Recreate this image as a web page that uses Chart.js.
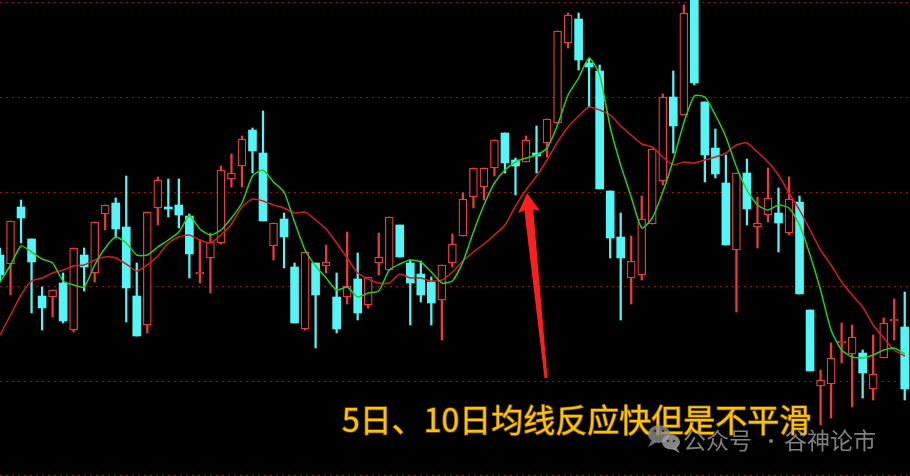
<!DOCTYPE html>
<html>
<head>
<meta charset="utf-8">
<script src="https://cdn.jsdelivr.net/npm/chart.js@4/dist/chart.umd.min.js"></script>
<style>
  html, body { margin: 0; padding: 0; background: #000; }
  #wrap { width: 910px; height: 476px; }
</style>
</head>
<body>
<div id="wrap"><canvas id="kline" width="910" height="476"></canvas></div>
<script>
"use strict";

// Daily K-line with 5/10-day moving averages (red = up, cyan = down).

// ---------- data ----------
const OPEN = [
  31.5, 30.6, 36.3, 33.1, 27.4, 27.3, 28.7, 24.0, 31.5, 29.7,
  35.6, 36.7, 34.3, 27.4, 24.5, 36.2, 36.3, 36.5, 35.4, 29.6,
  31.2, 32.7, 39.1, 40.4, 44.0, 41.7, 32.4, 35.1, 30.3, 24.1,
  30.7, 30.4, 27.3, 27.3, 29.1, 26.5, 30.7, 30.0, 34.5, 30.7,
  29.6, 28.8, 27.0, 30.7, 33.4, 37.3, 38.3, 40.2, 43.7, 41.0,
  40.8, 41.7, 42.7, 44.7, 52.7, 55.1, 50.7, 49.9, 37.9, 33.3,
  29.2, 29.5, 34.6, 38.9, 47.3, 45.5, 58.5, 46.8, 42.2, 38.7,
  32.0, 39.7, 34.3, 35.5, 35.7, 33.7, 36.8, 26.0, 18.4, 18.6,
  22.7, 21.6, 21.7, 18.1, 21.2, 24.9, 24.3
];
const HIGH = [
  32.2, 34.9, 37.0, 33.1, 28.3, 28.0, 29.7, 32.2, 32.2, 34.8,
  36.5, 37.2, 39.4, 30.7, 35.8, 39.3, 39.1, 39.1, 35.6, 33.0,
  33.7, 40.4, 41.6, 43.4, 44.2, 45.9, 34.7, 35.7, 30.7, 31.8,
  30.7, 32.5, 29.7, 33.8, 31.7, 29.3, 33.7, 35.3, 34.5, 31.0,
  30.9, 29.3, 30.5, 33.6, 37.7, 40.2, 40.2, 43.0, 43.7, 41.2,
  43.4, 44.4, 45.1, 53.9, 55.7, 55.7, 51.2, 50.5, 37.9, 35.7,
  33.4, 37.4, 42.1, 47.6, 49.9, 56.5, 59.0, 46.8, 44.1, 41.5,
  39.7, 41.1, 37.3, 40.2, 38.2, 39.3, 37.4, 26.0, 20.0, 22.7,
  24.7, 24.5, 22.0, 23.5, 25.2, 27.1, 27.8
];
const LOW = [
  28.8, 27.5, 32.7, 25.7, 24.0, 25.3, 24.7, 23.8, 27.9, 28.8,
  34.0, 33.2, 24.8, 23.4, 23.7, 34.5, 35.3, 34.2, 29.2, 28.7,
  27.7, 32.6, 38.3, 38.3, 39.7, 34.9, 31.0, 30.2, 24.7, 24.0,
  22.2, 29.7, 23.7, 26.6, 25.0, 26.2, 29.5, 30.0, 31.3, 24.5,
  26.8, 24.5, 23.0, 30.3, 33.4, 36.2, 37.0, 39.4, 39.7, 37.5,
  40.8, 39.7, 41.3, 44.7, 52.2, 50.0, 46.3, 38.1, 31.2, 25.0,
  26.6, 29.0, 34.6, 38.5, 41.7, 45.5, 48.5, 38.8, 39.2, 32.5,
  25.8, 34.5, 32.2, 34.8, 31.8, 33.5, 27.6, 19.9, 14.5, 15.2,
  20.7, 16.3, 17.2, 17.0, 21.2, 23.0, 17.0
];
const CLOSE = [
  29.5, 34.9, 35.2, 30.8, 26.2, 28.0, 24.9, 32.2, 30.3, 34.8,
  36.5, 34.1, 28.2, 23.4, 35.8, 39.0, 36.1, 35.5, 31.6, 29.8,
  32.8, 40.0, 39.7, 43.1, 41.9, 34.9, 34.7, 33.3, 24.7, 31.8,
  27.5, 30.8, 24.1, 28.4, 25.7, 29.3, 31.3, 35.3, 31.3, 28.7,
  27.5, 26.7, 30.5, 32.6, 37.1, 40.2, 40.2, 43.0, 40.7, 40.4,
  43.0, 41.4, 45.1, 53.9, 55.5, 51.0, 50.3, 38.1, 33.2, 31.2,
  30.9, 35.1, 42.1, 47.3, 44.4, 55.7, 48.7, 41.5, 39.6, 32.5,
  39.7, 36.1, 34.7, 37.2, 34.7, 37.1, 27.6, 19.9, 19.0, 21.2,
  22.9, 23.3, 19.7, 19.6, 24.7, 25.1, 18.1
];
const MA5 = [
  28.8, 30.5, 32.4, 31.8, 31.1, 30.7, 28.9, 28.5, 28.3, 30.5,
  32.2, 33.3, 32.7, 31.5, 31.5, 32.3, 33.0, 33.8, 35.4, 34.1,
  33.5, 34.0, 35.2, 36.7, 39.4, 40.0, 38.8, 37.8, 34.8, 32.0,
  30.4, 29.2, 28.0, 28.3, 27.3, 27.7, 27.9, 30.0, 30.6, 31.0,
  30.8, 29.8, 28.7, 28.9, 30.8, 33.8, 36.5, 38.7, 40.0, 40.8,
  41.2, 41.5, 42.2, 44.5, 47.5, 49.2, 51.2, 49.5, 44.3, 40.5,
  37.3, 34.2, 35.2, 37.8, 41.0, 44.7, 47.4, 47.3, 45.5, 43.3,
  40.3, 38.0, 36.5, 36.0, 36.5, 36.2, 34.5, 31.5, 28.0, 24.0,
  22.0, 21.3, 21.2, 21.5, 22.0, 22.2, 21.6
];
const MA10 = [
  23.5, 25.5, 27.5, 28.9, 29.2, 29.7, 30.0, 30.4, 30.5, 31.0,
  31.3, 31.2, 30.6, 29.9, 30.5, 31.4, 32.7, 33.3, 33.5, 33.0,
  32.7, 33.5, 34.6, 36.3, 37.1, 36.9, 36.5, 36.2, 35.7, 35.8,
  35.0, 34.1, 32.7, 31.2, 29.7, 29.1, 28.7, 28.7, 29.6, 29.2,
  29.2, 28.9, 29.0, 29.8, 30.9, 31.8, 32.6, 33.5, 34.5, 36.4,
  38.0, 39.4, 41.0, 42.8, 44.3, 45.4, 46.3, 46.0, 45.5, 44.4,
  43.5, 42.6, 42.3, 41.3, 40.5, 40.8, 40.7, 41.0, 41.3, 41.7,
  42.5, 42.7, 41.8, 40.8, 39.5, 37.7, 36.0, 34.0, 32.0, 30.5,
  28.8, 27.5, 26.3, 24.5, 23.2, 22.0, 21.4
];

// annotation: arrow from tail (low) up to tip, in candle-index / price units
const ARROW_TIP = { x: 50.1, y: 37.7 };
const ARROW_TAIL = { x: 51.9, y: 19.2 };
const CAPTION = "5日、10日均线反应快但是不平滑";
const WM_LEFT = "公众号";
const WM_RIGHT = "谷神论市";

// ---------- colours ----------
const UP = "#f03a3a";
const DOWN = "#52f6f6";
const MA5_COL = "#1fd21f";
const MA10_COL = "#d41e1e";
const GRID = "#9a1010";

// ---------- datasets ----------
const idx = OPEN.map((_, i) => i);
const isUp = i => CLOSE[i] >= OPEN[i];

const wicks = idx.map(i => ({ x: i, y: [LOW[i], HIGH[i]] }));
const upBodies = idx.filter(isUp).map(i => ({ x: i, y: [OPEN[i], CLOSE[i]] }));
const downBodies = idx.filter(i => !isUp(i)).map(i => ({ x: i, y: [CLOSE[i], OPEN[i]] }));

// ---------- overlay: arrow, caption, watermark ----------
const overlay = {
  id: "overlay",
  afterDraw(chart) {
    const { ctx, scales: { x, y } } = chart;
    ctx.save();

    // arrow
    const tx = x.getPixelForValue(ARROW_TIP.x), ty = y.getPixelForValue(ARROW_TIP.y);
    const bx = x.getPixelForValue(ARROW_TAIL.x), by = y.getPixelForValue(ARROW_TAIL.y);
    const len = Math.hypot(bx - tx, by - ty);
    const dx = (bx - tx) / len, dy = (by - ty) / len;
    const nx = dy, ny = -dx;
    const headLen = 19, headW = 11, shaftTop = 4.5, shaftBot = 1.5;
    const hx = tx + dx * headLen, hy = ty + dy * headLen;
    ctx.fillStyle = "#ff1e1e";
    ctx.beginPath();
    ctx.moveTo(tx, ty);
    ctx.lineTo(hx + nx * headW, hy + ny * headW);
    ctx.lineTo(hx + nx * shaftTop - dx * 2, hy + ny * shaftTop - dy * 2);
    ctx.lineTo(bx + nx * shaftBot, by + ny * shaftBot);
    ctx.lineTo(bx - nx * shaftBot, by - ny * shaftBot);
    ctx.lineTo(hx - nx * shaftTop - dx * 2, hy - ny * shaftTop - dy * 2);
    ctx.lineTo(hx - nx * headW, hy - ny * headW);
    ctx.closePath();
    ctx.fill();

    // caption
    ctx.font = "32px 'Noto Sans CJK SC', sans-serif";
    ctx.textBaseline = "middle";
    ctx.textAlign = "left";
    ctx.lineWidth = 1.5;
    ctx.strokeStyle = "#7a5200";
    ctx.strokeText(CAPTION, 342, 420);
    ctx.fillStyle = "#fcc400";
    ctx.fillText(CAPTION, 342, 420);

    // watermark: wechat bubbles + account name
    ctx.globalAlpha = 0.8;
    ctx.fillStyle = "#8c8c8c";
    ctx.beginPath(); ctx.ellipse(659, 434, 11, 9, 0, 0, Math.PI * 2); ctx.fill();
    ctx.beginPath(); ctx.moveTo(652, 440); ctx.lineTo(648, 447); ctx.lineTo(657, 442); ctx.fill();
    ctx.fillStyle = "#a8a8a8";
    ctx.beginPath(); ctx.ellipse(671, 442, 9, 7.5, 0, 0, Math.PI * 2); ctx.fill();
    ctx.beginPath(); ctx.moveTo(676, 447); ctx.lineTo(680, 453); ctx.lineTo(672, 449); ctx.fill();
    ctx.fillStyle = "#222";
    [[655, 431], [663, 431], [668, 441], [674, 441]].forEach(([px, py]) => {
      ctx.beginPath(); ctx.arc(px, py, 1.3, 0, Math.PI * 2); ctx.fill();
    });
    ctx.fillStyle = "#a0a0a0";
    ctx.font = "23px 'Noto Sans CJK SC', sans-serif";
    ctx.fillText(WM_LEFT, 683, 440);
    ctx.beginPath(); ctx.arc(771, 441, 2, 0, Math.PI * 2); ctx.fill();
    ctx.fillText(WM_RIGHT, 784, 440);
    ctx.restore();
  }
};

// ---------- chart ----------
new Chart(document.getElementById("kline"), {
  type: "bar",
  data: {
    datasets: [
      { type: "line", label: "MA5", data: idx.map(i => ({ x: i, y: MA5[i] })),
        borderColor: MA5_COL, borderWidth: 1.5, pointRadius: 0, tension: 0.2, order: 0 },
      { type: "line", label: "MA10", data: idx.map(i => ({ x: i, y: MA10[i] })),
        borderColor: MA10_COL, borderWidth: 1.5, pointRadius: 0, tension: 0.2, order: 0 },
      { label: "up", data: upBodies, backgroundColor: "#000", borderColor: UP,
        borderWidth: 1.3, borderSkipped: false, barThickness: 8, grouped: false, order: 1 },
      { label: "down", data: downBodies, backgroundColor: DOWN, borderWidth: 0,
        barThickness: 8, grouped: false, order: 1 },
      { label: "wick", data: wicks,
        backgroundColor: c => isUp(c.dataIndex) ? UP : DOWN,
        borderWidth: 0, barThickness: 1.6, grouped: false, order: 2 },
    ]
  },
  options: {
    responsive: false,
    animation: false,
    devicePixelRatio: 1,
    layout: { padding: 0 },
    plugins: { legend: { display: false }, tooltip: { enabled: false } },
    scales: {
      x: { type: "linear", min: 0, max: 86.5, offset: false, display: false },
      y: {
        min: 9.4, max: 57,
        ticks: { display: false, stepSize: 9.45, includeBounds: false },
        grid: { color: GRID, lineWidth: 1, drawTicks: false },
        border: { display: false, dash: [2, 4] },
      },
    },
  },
  plugins: [overlay],
});
</script>
</body>
</html>
